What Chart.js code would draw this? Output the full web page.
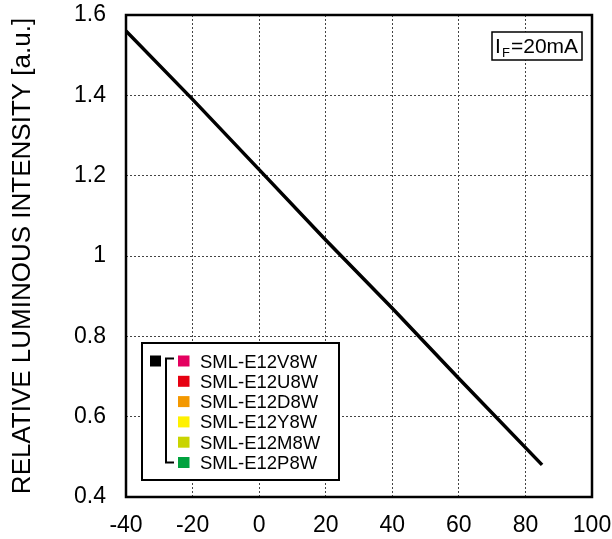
<!DOCTYPE html>
<html>
<head>
<meta charset="utf-8">
<script src="https://cdn.jsdelivr.net/npm/chart.js@4.4.0/dist/chart.umd.min.js"></script>
<style>
  html, body { margin: 0; padding: 0; background: #fff; }
  #wrap { width: 612px; height: 539px; }
</style>
</head>
<body>
<div id="wrap"><canvas id="grafico"></canvas></div>
<script>
// temperatura ambiente (°C) x intensidade relativa
const temperaturas = [-40, -20, 0, 20, 40, 60, 85];
const intensidade = [1.56, 1.39, 1.215, 1.04, 0.87, 0.695, 0.48];

const xTicks = [-40, -20, 0, 20, 40, 60, 80, 100];
const yTicks = [0.4, 0.6, 0.8, 1, 1.2, 1.4, 1.6];
const yTickLabels = ['0.4', '0.6', '0.8', '1', '1.2', '1.4', '1.6'];

const legendaNomes = ['SML-E12V8W', 'SML-E12U8W', 'SML-E12D8W', 'SML-E12Y8W', 'SML-E12M8W', 'SML-E12P8W'];
const legendaCores = ['#E4005F', '#E60012', '#F39800', '#FFF100', '#C9D400', '#00A23E'];

const fonte = '"Liberation Sans", Arial, sans-serif';

// borda, caixa IF=20mA e legenda com colchete
const extras = {
    id: 'extras',
    afterDraw(chart) {
        const { ctx, chartArea: a } = chart;
        ctx.save();
        ctx.strokeStyle = '#000';
        ctx.lineWidth = 2.5;
        ctx.strokeRect(a.left, a.top, a.right - a.left, a.bottom - a.top);

        // caixa IF
        ctx.lineWidth = 1.5;
        ctx.fillStyle = '#fff';
        ctx.fillRect(492, 32, 90, 28);
        ctx.strokeRect(492, 32, 90, 28);
        ctx.fillStyle = '#000';
        ctx.textBaseline = 'alphabetic';
        ctx.font = '21px ' + fonte;
        ctx.fillText('I', 495, 53);
        ctx.font = '13px ' + fonte;
        ctx.fillText('F', 502, 57);
        ctx.font = '21px ' + fonte;
        ctx.fillText('=20mA', 511, 53);

        // legenda
        ctx.lineWidth = 2;
        ctx.fillStyle = '#fff';
        ctx.fillRect(142, 343, 197, 137);
        ctx.strokeRect(142, 343, 197, 137);
        ctx.fillStyle = '#000';
        ctx.fillRect(150, 355.5, 11, 11);
        const y0 = 361, passo = 20.3;
        ctx.beginPath();
        ctx.moveTo(174, y0 - 2.5);
        ctx.lineTo(166, y0 - 2.5);
        ctx.lineTo(166, y0 + passo * 5);
        ctx.lineTo(174, y0 + passo * 5);
        ctx.stroke();
        ctx.font = '18.5px ' + fonte;
        ctx.textBaseline = 'middle';
        legendaNomes.forEach((nome, i) => {
            const y = y0 + passo * i;
            ctx.fillStyle = legendaCores[i];
            ctx.fillRect(178, y - 5.5, 11.5, 11);
            ctx.fillStyle = '#000';
            ctx.fillText(nome, 200, y + 1.5);
        });
        ctx.restore();
    }
};

new Chart(document.getElementById('grafico'), {
    type: 'line',
    data: {
        datasets: [{
            data: temperaturas.map((t, i) => ({ x: t, y: intensidade[i] })),
            borderColor: '#000',
            borderWidth: 3.5,
            pointRadius: 0,
            tension: 0
        }]
    },
    options: {
        responsive: true, maintainAspectRatio: false, animation: false,
        layout: { padding: { top: 15, right: 20, left: 0, bottom: 0 } },
        plugins: { legend: { display: false }, tooltip: { enabled: false } },
        scales: {
            x: {
                type: 'linear', min: -40, max: 100,
                afterBuildTicks: s => { s.ticks = xTicks.map(v => ({ value: v })); },
                afterFit: s => { s.height = 42; s.paddingLeft = 0; s.paddingRight = 0; },
                ticks: { color: '#000', font: { family: fonte, size: 23 }, padding: 15, maxRotation: 0 },
                grid: { color: '#444', lineWidth: 1, drawTicks: false },
                border: { display: false, dash: [2, 2] }
            },
            y: {
                type: 'linear', min: 0.4, max: 1.6,
                afterBuildTicks: s => { s.ticks = yTicks.map(v => ({ value: v })); },
                afterFit: s => { s.width = 126; s.paddingTop = 0; s.paddingBottom = 0; },
                ticks: {
                    color: '#000', font: { family: fonte, size: 23 }, padding: 20,
                    callback: v => yTickLabels[yTicks.findIndex(t => Math.abs(t - v) < 1e-6)]
                },
                grid: { color: '#444', lineWidth: 1, drawTicks: false },
                border: { display: false, dash: [2, 2] },
                title: {
                    display: true, text: 'RELATIVE LUMINOUS INTENSITY [a.u.]',
                    color: '#000', font: { family: fonte, size: 26 }, padding: { top: 7, bottom: 0 }
                }
            }
        }
    },
    plugins: [extras]
});
</script>
</body>
</html>
